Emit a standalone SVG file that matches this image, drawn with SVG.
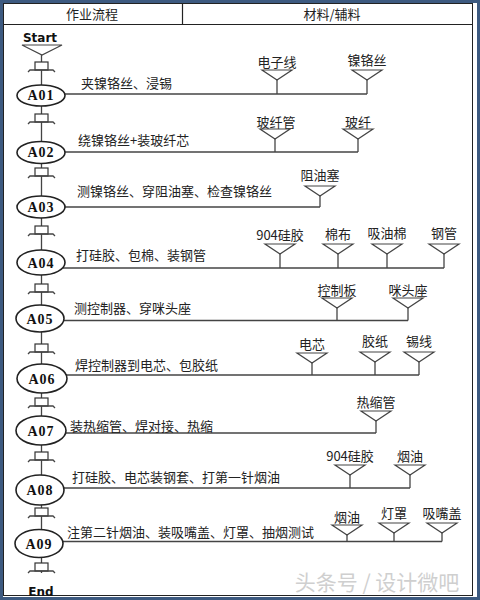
<svg xmlns="http://www.w3.org/2000/svg" width="480" height="600" viewBox="0 0 480 600">
<style>
.cn{font-family:"Noto Sans CJK SC","Noto Sans",sans-serif;font-size:13px;fill:#222}
.lbl{font-family:"Noto Sans CJK SC","Noto Sans",sans-serif;font-size:13px;fill:#222;text-anchor:middle}
.id{font-family:"Liberation Serif",serif;font-size:14px;font-weight:bold;fill:#111;text-anchor:middle;letter-spacing:1px}
.se{font-family:"DejaVu Sans",sans-serif;font-size:12px;font-weight:bold;fill:#111;text-anchor:middle}
.ln{stroke:#444;stroke-width:1.3;fill:none}
.el{fill:#fff;stroke:#222;stroke-width:1.6}
.tri{fill:#fff;stroke:#444;stroke-width:1.2}
.box{fill:#fff;stroke:#333;stroke-width:1.2}
</style>
<defs>
<path id="tri" d="M-15,0 H15 L0,10 Z"/>
<g id="con"><rect class="box" x="35" y="0" width="13" height="8"/><path class="ln" d="M28,10 L30,8 H53 L55,10"/></g>
</defs>
<rect width="480" height="600" fill="#fff"/>
<g id="frame">
<rect x="1.5" y="1.5" width="477" height="597" fill="none" stroke="#3d5a80" stroke-width="3"/>
<rect x="3.5" y="3.5" width="469" height="592" fill="none" stroke="#222" stroke-width="1"/>
<line x1="3" y1="24.5" x2="473" y2="24.5" stroke="#222" stroke-width="1.2"/>
<line x1="182.5" y1="3" x2="182.5" y2="24.5" stroke="#222" stroke-width="1.2"/>
<text class="lbl" x="92" y="19">作业流程</text>
<text class="lbl" x="332" y="19">材料/辅料</text>
</g>
<g id="connectors">
<line class="ln" x1="41.5" y1="54" x2="41.5" y2="573"/>
<use href="#con" y="62"/>
<use href="#con" y="114"/>
<use href="#con" y="168"/>
<use href="#con" y="226"/>
<use href="#con" y="284"/>
<use href="#con" y="344"/>
<use href="#con" y="398"/>
<use href="#con" y="452"/>
<use href="#con" y="508"/>
<use href="#con" y="563"/>
<line class="ln" x1="65" y1="94" x2="367" y2="94"/>
<line class="ln" x1="65" y1="152" x2="358" y2="152"/>
<line class="ln" x1="65" y1="207" x2="320" y2="207"/>
<line class="ln" x1="63" y1="268" x2="444" y2="268"/>
<line class="ln" x1="63" y1="320.5" x2="408" y2="320.5"/>
<line class="ln" x1="65" y1="375" x2="419" y2="375"/>
<line class="ln" x1="64" y1="433" x2="376" y2="433"/>
<line class="ln" x1="64" y1="488" x2="410" y2="488"/>
<line class="ln" x1="63" y1="541.5" x2="442" y2="541.5"/>
</g>
<g id="start"><text class="se" x="40" y="42">Start</text><path class="tri" d="M22,45 H62 L42,55 Z"/></g>
<g id="A01"><ellipse class="el" cx="41" cy="95.5" rx="24" ry="10.5"/><text class="id" x="41" y="100">A01</text><text class="cn" x="81" y="87.5">夹镍铬丝、浸锡</text></g>
<g id="A02"><ellipse class="el" cx="41" cy="152.5" rx="24" ry="11"/><text class="id" x="41" y="157">A02</text><text class="cn" x="78" y="145">绕镍铬丝+装玻纤芯</text></g>
<g id="A03"><ellipse class="el" cx="41" cy="207" rx="24" ry="11"/><text class="id" x="41" y="212">A03</text><text class="cn" x="77" y="195.5">测镍铬丝、穿阻油塞、检查镍铬丝</text></g>
<g id="A04"><ellipse class="el" cx="41" cy="262.5" rx="24" ry="12.5"/><text class="id" x="41" y="267.5">A04</text><text class="cn" x="76" y="259.5">打硅胶、包棉、装钢管</text></g>
<g id="A05"><ellipse class="el" cx="40" cy="318.5" rx="24" ry="13.5"/><text class="id" x="40" y="323.5">A05</text><text class="cn" x="74" y="312.5">测控制器、穿咪头座</text></g>
<g id="A06"><ellipse class="el" cx="42" cy="378.5" rx="25" ry="14.5"/><text class="id" x="42" y="383.5">A06</text><text class="cn" x="75" y="369.5">焊控制器到电芯、包胶纸</text></g>
<g id="A07"><ellipse class="el" cx="41" cy="430.5" rx="25" ry="14.5"/><text class="id" x="41" y="435.5">A07</text><text class="cn" x="70" y="431">装热缩管、焊对接、热缩</text></g>
<g id="A08"><ellipse class="el" cx="40" cy="490" rx="24" ry="15"/><text class="id" x="40" y="495">A08</text><text class="cn" x="72" y="481.5">打硅胶、电芯装钢套、打第一针烟油</text></g>
<g id="A09"><ellipse class="el" cx="39" cy="543.5" rx="24" ry="14"/><text class="id" x="39" y="548.5">A09</text><text class="cn" x="67" y="536.5">注第二针烟油、装吸嘴盖、灯罩、抽烟测试</text></g>
<g id="end"><text class="se" x="41" y="596">End</text></g>
<g id="materials">
<g id="m-dzx"><text class="lbl" x="277" y="66.5">电子线</text><use class="tri" href="#tri" x="277" y="70"/><line class="ln" x1="277" y1="80" x2="277" y2="94"/></g>
<g id="m-nls"><text class="lbl" x="367" y="64.5">镍铬丝</text><use class="tri" href="#tri" x="367" y="70"/><line class="ln" x1="367" y1="80" x2="367" y2="94"/></g>
<g id="m-bxg"><text class="lbl" x="276" y="126.5">玻纤管</text><use class="tri" href="#tri" x="275" y="129"/><line class="ln" x1="275" y1="139" x2="275" y2="152"/></g>
<g id="m-bx"><text class="lbl" x="358" y="126.5">玻纤</text><use class="tri" href="#tri" x="358" y="129"/><line class="ln" x1="358" y1="139" x2="358" y2="152"/></g>
<g id="m-zys"><text class="lbl" x="320" y="179.5">阻油塞</text><use class="tri" href="#tri" x="320" y="186"/><line class="ln" x1="320" y1="196" x2="320" y2="207"/></g>
<g id="m-gj1"><text class="lbl" x="280" y="239.5">904硅胶</text><use class="tri" href="#tri" x="280" y="244"/><line class="ln" x1="280" y1="254" x2="280" y2="268"/></g>
<g id="m-mb"><text class="lbl" x="338" y="238.5">棉布</text><use class="tri" href="#tri" x="338" y="244"/><line class="ln" x1="338" y1="254" x2="338" y2="268"/></g>
<g id="m-xym"><text class="lbl" x="387" y="237.5">吸油棉</text><use class="tri" href="#tri" x="387" y="244"/><line class="ln" x1="387" y1="254" x2="387" y2="268"/></g>
<g id="m-gg"><text class="lbl" x="444" y="237.5">钢管</text><use class="tri" href="#tri" x="444" y="244"/><line class="ln" x1="444" y1="254" x2="444" y2="268"/></g>
<g id="m-kzb"><text class="lbl" x="337" y="294.5">控制板</text><use class="tri" href="#tri" x="337" y="298"/><line class="ln" x1="337" y1="308" x2="337" y2="320.5"/></g>
<g id="m-mtz"><text class="lbl" x="408" y="294.5">咪头座</text><use class="tri" href="#tri" x="408" y="298"/><line class="ln" x1="408" y1="308" x2="408" y2="320.5"/></g>
<g id="m-dx"><text class="lbl" x="312" y="348.5">电芯</text><use class="tri" href="#tri" x="312" y="353"/><line class="ln" x1="312" y1="363" x2="312" y2="375"/></g>
<g id="m-jz"><text class="lbl" x="375" y="345.5">胶纸</text><use class="tri" href="#tri" x="375" y="352"/><line class="ln" x1="375" y1="362" x2="375" y2="375"/></g>
<g id="m-xx"><text class="lbl" x="419" y="345.5">锡线</text><use class="tri" href="#tri" x="419" y="352"/><line class="ln" x1="419" y1="362" x2="419" y2="375"/></g>
<g id="m-rsg"><text class="lbl" x="376" y="406.5">热缩管</text><use class="tri" href="#tri" x="376" y="411"/><line class="ln" x1="376" y1="421" x2="376" y2="433"/></g>
<g id="m-gj2"><text class="lbl" x="350" y="460.5">904硅胶</text><use class="tri" href="#tri" x="350" y="465"/><line class="ln" x1="350" y1="475" x2="350" y2="488"/></g>
<g id="m-yy1"><text class="lbl" x="410" y="460.5">烟油</text><use class="tri" href="#tri" x="410" y="465"/><line class="ln" x1="410" y1="475" x2="410" y2="488"/></g>
<g id="m-yy2"><text class="lbl" x="347" y="521.5">烟油</text><use class="tri" href="#tri" x="347" y="525"/><line class="ln" x1="347" y1="535" x2="347" y2="541.5"/></g>
<g id="m-dz"><text class="lbl" x="394" y="517.5">灯罩</text><use class="tri" href="#tri" x="394" y="523"/><line class="ln" x1="394" y1="533" x2="394" y2="541.5"/></g>
<g id="m-xzg"><text class="lbl" x="442" y="517.5">吸嘴盖</text><use class="tri" href="#tri" x="442" y="523"/><line class="ln" x1="442" y1="533" x2="442" y2="541.5"/></g>
</g>
<text x="377" y="590" font-family="'Noto Sans CJK SC',sans-serif" font-size="21" fill="#cfcfcf" text-anchor="middle">头条号 / 设计微吧</text>
</svg>
